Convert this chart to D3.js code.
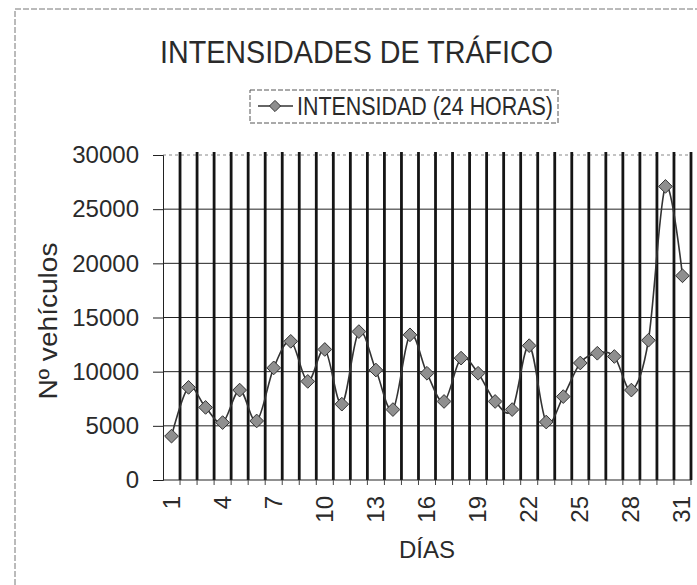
<!DOCTYPE html>
<meta charset="utf-8">
<!-- Load d3.js -->
<script src="https://d3js.org/d3.v7.min.js"></script>
<style>
  body { margin: 0; background: #fff; }
  text { font-family: "Liberation Sans", Arial, sans-serif; fill: #2a2a2a; }
</style>

<div id="svg_div"></div>

<script>

    var days = d3.range(1, 32);
    var intensidad = [4050, 8550, 6700, 5300, 8300, 5450, 10350, 12800, 9100, 12050,
                      7000, 13700, 10150, 6500, 13400, 9850, 7250, 11250, 9850, 7250,
                      6500, 12400, 5350, 7700, 10800, 11700, 11400, 8300, 12900, 27100, 18850];
    var yTicks = [0, 5000, 10000, 15000, 20000, 25000, 30000];
    var xLabels = [1, 4, 7, 10, 13, 16, 19, 22, 25, 28, 31];

    var width = 697, height = 585;
    var margin = {top: 155, right: 6, bottom: 105, left: 163};

    var svg = d3.select("#svg_div").append("svg").attr("width", width).attr("height", height);

    // outer chart border (only top and left visible in the scan)
    svg.append("path").attr("d", "M15,585 L15,9 L697,9")
       .attr("fill", "none").attr("stroke", "#777").attr("stroke-width", 1).attr("stroke-dasharray", "6,2");

    var x = d3.scaleBand().domain(days).range([margin.left, width - margin.right]).padding(0);
    var y = d3.scaleLinear().domain([0, 30000]).range([height - margin.bottom, margin.top]);

    // horizontal grid
    svg.selectAll(".hgrid").data(yTicks.slice(1)).enter().append("line")
       .attr("x1", margin.left).attr("x2", width - margin.right)
       .attr("y1", function(d) { return y(d); }).attr("y2", function(d) { return y(d); })
       .attr("stroke", function(d) { return d === 30000 ? "#888" : "#222"; })
       .attr("stroke-dasharray", function(d) { return d === 30000 ? "3,3" : null; })
       .attr("stroke-width", 1);

    // vertical grid at the category boundaries
    svg.selectAll(".vgrid").data(days).enter().append("line")
       .attr("x1", function(d) { return x(d) + x.bandwidth(); })
       .attr("x2", function(d) { return x(d) + x.bandwidth(); })
       .attr("y1", y(30000) - 3).attr("y2", y(0))
       .attr("stroke", "#151515").attr("stroke-width", 2.8);

    // y axis
    var yAxis = svg.append("g").attr("transform", "translate(" + margin.left + ",0)")
       .call(d3.axisLeft(y).tickValues(yTicks).tickSize(10).tickPadding(14).tickFormat(d3.format("d")));
    yAxis.select(".domain").attr("stroke", "#222");
    yAxis.selectAll(".tick line").attr("stroke", "#222");
    yAxis.selectAll("text").style("font-size", "24px").attr("fill", "#2a2a2a");

    // x axis
    svg.append("line").attr("x1", margin.left).attr("x2", width - margin.right)
       .attr("y1", y(0)).attr("y2", y(0)).attr("stroke", "#222");
    svg.selectAll(".xtick").data(days).enter().append("line")
       .attr("x1", function(d) { return x(d) + x.bandwidth(); })
       .attr("x2", function(d) { return x(d) + x.bandwidth(); })
       .attr("y1", y(0)).attr("y2", y(0) + 5).attr("stroke", "#444");
    svg.selectAll(".xlabel").data(xLabels).enter().append("text")
       .attr("transform", function(d) { return "translate(" + (x(d) + x.bandwidth() / 2 + 8) + "," + (y(0) + 16) + ") rotate(-90)"; })
       .attr("text-anchor", "end")
       .style("font-size", "24px")
       .text(function(d) { return d; });

    // line + markers
    var line = d3.line()
       .x(function(d, i) { return x(days[i]) + x.bandwidth() / 2; })
       .y(function(d) { return y(d); })
       .curve(d3.curveCardinal.tension(0));
    svg.append("path").datum(intensidad).attr("d", line)
       .attr("fill", "none").attr("stroke", "#333").attr("stroke-width", 1.6);

    var diamond = d3.symbol().type(d3.symbolDiamond2).size(120);
    svg.selectAll(".pt").data(intensidad).enter().append("path")
       .attr("d", diamond)
       .attr("transform", function(d, i) { return "translate(" + (x(days[i]) + x.bandwidth() / 2) + "," + y(d) + ")"; })
       .attr("fill", "#8f8f8f").attr("stroke", "#333").attr("stroke-width", 1);

    // titles
    svg.append("text").attr("x", 160).attr("y", 63)
       .attr("textLength", 393).attr("lengthAdjust", "spacingAndGlyphs")
       .style("font-size", "31px").text("INTENSIDADES DE TRÁFICO");
    svg.append("text").attr("transform", "translate(57,321) rotate(-90)")
       .attr("text-anchor", "middle")
       .attr("textLength", 157).attr("lengthAdjust", "spacingAndGlyphs")
       .style("font-size", "25px").text("Nº vehículos");
    svg.append("text").attr("x", 427).attr("y", 558)
       .attr("text-anchor", "middle").style("font-size", "24px").text("DÍAS");

    // legend
    svg.append("rect").attr("x", 250).attr("y", 90).attr("width", 308).attr("height", 33)
       .attr("fill", "none").attr("stroke", "#555").attr("stroke-dasharray", "5,2");
    svg.append("line").attr("x1", 258).attr("x2", 293).attr("y1", 106).attr("y2", 106)
       .attr("stroke", "#333").attr("stroke-width", 1.6);
    svg.append("path").attr("d", d3.symbol().type(d3.symbolDiamond2).size(80))
       .attr("transform", "translate(275,106)")
       .attr("fill", "#8f8f8f").attr("stroke", "#333");
    svg.append("text").attr("x", 297).attr("y", 115)
       .attr("textLength", 256).attr("lengthAdjust", "spacingAndGlyphs")
       .style("font-size", "25px").text("INTENSIDAD (24 HORAS)");

</script>
